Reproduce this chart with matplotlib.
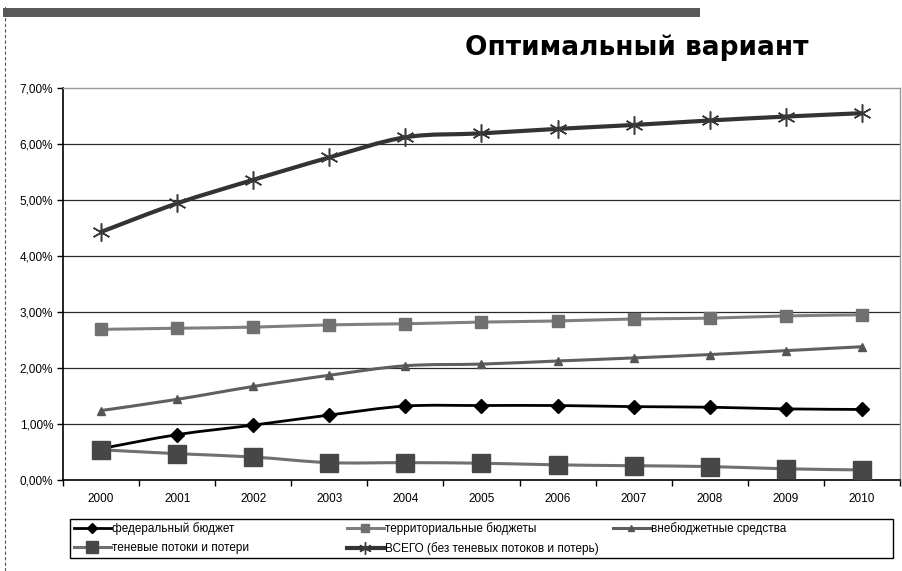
import numpy as np
import matplotlib
matplotlib.use("Agg")
import matplotlib.pyplot as plt
from matplotlib.path import Path
from matplotlib.patches import PathPatch, Rectangle
from matplotlib.lines import Line2D

years = ["2000", "2001", "2002", "2003", "2004", "2005", "2006", "2007", "2008", "2009", "2010"]
federal = [0.56, 0.81, 0.98, 1.16, 1.32, 1.33, 1.33, 1.31, 1.30, 1.27, 1.26]
territorial = [2.69, 2.71, 2.73, 2.77, 2.79, 2.82, 2.84, 2.875, 2.89, 2.93, 2.95]
offbudget = [1.24, 1.44, 1.67, 1.87, 2.04, 2.07, 2.125, 2.18, 2.24, 2.31, 2.38]
shadow = [0.54, 0.47, 0.41, 0.31, 0.31, 0.30, 0.27, 0.255, 0.24, 0.20, 0.18]
total = [4.43, 4.94, 5.36, 5.76, 6.12, 6.19, 6.27, 6.34, 6.42, 6.49, 6.55]
ytick_labels = ["0,00%", "1,00%", "2,00%", "3,00%", "4,00%", "5,00%", "6,00%", "7,00%"]
labels = ["федеральный бюджет", "территориальные бюджеты", "внебюджетные средства",
          "теневые потоки и потери", "ВСЕГО (без теневых потоков и потерь)"]
title = "Оптимальный вариант"

plt.rcParams['font.family'] = ['Liberation Sans', 'DejaVu Sans']

fig = plt.figure(figsize=(9.03, 5.71), dpi=100)
W, H = 903, 571
ax = fig.add_axes([63 / W, 1 - 480 / H, (900 - 63) / W, (480 - 88) / H])

x = np.arange(len(years))


def smooth_path(xs, ys, t=1 / 6):
    xs = np.asarray(xs, float)
    ys = np.asarray(ys, float)
    pts = np.column_stack([xs, ys])
    n = len(pts)
    verts = [pts[0]]
    codes = [Path.MOVETO]
    for i in range(n - 1):
        p0 = pts[i - 1] if i > 0 else pts[i]
        p1 = pts[i]
        p2 = pts[i + 1]
        p3 = pts[i + 2] if i + 2 < n else pts[i + 1]
        c1 = p1 + (p2 - p0) * t
        c2 = p2 - (p3 - p1) * t
        verts += [c1, c2, p2]
        codes += [Path.CURVE4] * 3
    return Path(verts, codes)


series = [
    (federal, dict(color="#000000", lw=2.0), dict(marker="D", ms=7, mfc="#000000", mec="#000000")),
    (territorial, dict(color="#7f7f7f", lw=2.2), dict(marker="s", ms=9, mfc="#707070", mec="#707070")),
    (offbudget, dict(color="#5f5f5f", lw=2.2), dict(marker="^", ms=5.5, mfc="#555555", mec="#555555")),
    (shadow, dict(color="#707070", lw=2.2), dict(marker="s", ms=12.5, mfc="#474747", mec="#474747")),
    (total, dict(color="#333333", lw=3.0), dict(marker=(6, 2, 0), ms=13, mfc="none", mec="#3a3a3a", mew=1.1)),
]

handles = []
for vals, lstyle, mstyle in series:
    patch = PathPatch(smooth_path(x, vals), facecolor="none", edgecolor=lstyle["color"],
                      lw=lstyle["lw"], capstyle="round", joinstyle="round", zorder=3)
    ax.add_patch(patch)
    ax.plot(x, vals, linestyle="none", zorder=4, **mstyle)
    handles.append(Line2D([], [], color=lstyle["color"], lw=lstyle["lw"],
                          marker=mstyle["marker"], ms=mstyle["ms"] * 0.7,
                          mfc=mstyle["mfc"], mec=mstyle["mec"]))

ax.set_xlim(-0.5, len(years) - 0.5)
ax.set_ylim(0, 7)
ax.set_yticks(range(8))
ax.set_yticklabels(ytick_labels, fontsize=8.5)
ax.set_xticks(x)
ax.set_xticklabels(years, fontsize=8.5)
ax.tick_params(axis="x", length=0, pad=9)
ax.set_xticks(np.arange(-0.5, len(years)), minor=True)
ax.tick_params(axis="x", which="minor", length=4, width=1, color="black", direction="out")
ax.tick_params(axis="y", length=4, width=1, color="black", direction="out", pad=3)

for v in range(1, 7):
    ax.axhline(v, color="#2a2a2a", lw=0.9, zorder=1)

for s in ["left", "bottom"]:
    ax.spines[s].set_color("black")
    ax.spines[s].set_linewidth(1.2)
for s in ["top", "right"]:
    ax.spines[s].set_color("#9a9a9a")
    ax.spines[s].set_linewidth(1.0)

# legend: frame + three columns filled row by row
fig.add_artist(Rectangle((70 / W, 1 - 558 / H), (893 - 70) / W, (558 - 519) / H,
                         transform=fig.transFigure, facecolor="white", edgecolor="black", lw=1.0))
columns = [[0, 3], [1, 4], [2]]
col_x = [70, 343, 609]
for idxs, cx in zip(columns, col_x):
    lg = fig.legend([handles[i] for i in idxs], [labels[i] for i in idxs], ncol=1,
                    loc="upper left", bbox_to_anchor=(cx / W, 1 - 519 / H),
                    fontsize=8.5, frameon=False, handlelength=3.2, handletextpad=0.1,
                    borderpad=0.3, labelspacing=0.55, borderaxespad=0)
    lg.set_zorder(5)

# decorative top bar and dashed left border
fig.add_artist(Rectangle((3 / W, 1 - 17 / H), (700 - 3) / W, 9 / H, transform=fig.transFigure,
                         facecolor="#5a5a5a", edgecolor="none"))
fig.add_artist(Line2D([5 / W, 5 / W], [0, 1 - 6 / H], transform=fig.transFigure,
                      color="#555555", lw=0.8, linestyle=(0, (3, 2))))

fig.text(637 / W, 1 - 48 / H, title, family="DejaVu Sans", fontweight="bold",
         fontsize=19, ha="center", va="center")

fig.savefig("out.png", dpi=100)
